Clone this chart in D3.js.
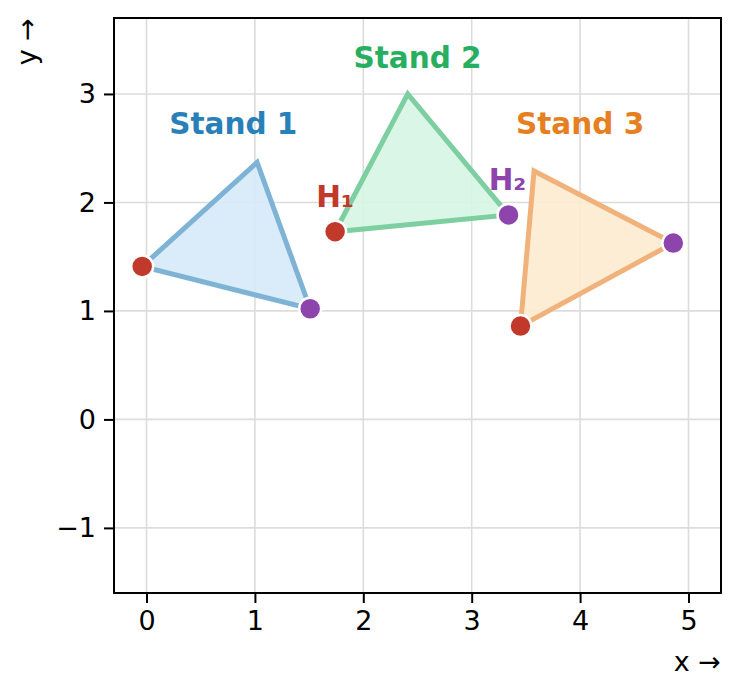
<!DOCTYPE html>
<html>
<head>
<meta charset="utf-8">
<script src="https://cdn.jsdelivr.net/npm/d3@7"></script>
<style>
  body { margin: 0; background: #fff; }
  text { font-family: "DejaVu Sans", sans-serif; }
</style>
</head>
<body>
<div id="chart"></div>
<script>
// stands (triangles), vertex 0 = H1 (red), vertex 2 = H2 (purple)
let stands = ["Stand 1", "Stand 2", "Stand 3"];
let standX = [[-0.04, 1.02, 1.51], [1.74, 2.41, 3.34], [3.45, 3.575, 4.86]];
let standY = [[1.41, 2.37, 1.02], [1.73, 3.0, 1.885], [0.86, 2.29, 1.625]];
let standColors = ["#2980b9", "#27ae60", "#e67e22"];
let edgeColors = ["#7fb3d5", "#7dcea0", "#f0b27a"];
let fillColors = ["#d6eaf8", "#d5f5e3", "#fdebd0"];
let labelX = [0.8, 2.5, 4.0];
let labelY = [2.72, 3.33, 2.72];

let hubNames = ["H\u2081", "H\u2082"];
let hubColors = ["#c0392b", "#8e44ad"];
let hubLabelX = [1.74, 3.33];
let hubLabelY = [2.05, 2.21];

let xTicks = [0, 1, 2, 3, 4, 5];
let yTicks = [-1, 0, 1, 2, 3];

let margin = {top: 18, right: 19, bottom: 101, left: 114},
  width = 740 - margin.left - margin.right,
  height = 694 - margin.top - margin.bottom;

let svg = d3.select("#chart")
  .append("svg")
  .attr("width", 740)
  .attr("height", 694)
  .append("g")
  .attr("transform", "translate(" + margin.left + "," + margin.top + ")");

let x = d3.scaleLinear().domain([-0.3, 5.3]).range([0, width]);
let y = d3.scaleLinear().domain([-1.6, 3.7]).range([height, 0]);

// grid
svg.append("g").selectAll("line")
  .data(xTicks)
  .enter().append("line")
  .attr("x1", d => x(d)).attr("x2", d => x(d))
  .attr("y1", 0).attr("y2", height)
  .style("stroke", "#dcdcdc").style("stroke-width", 1.6);
svg.append("g").selectAll("line")
  .data(yTicks)
  .enter().append("line")
  .attr("x1", 0).attr("x2", width)
  .attr("y1", d => y(d)).attr("y2", d => y(d))
  .style("stroke", "#dcdcdc").style("stroke-width", 1.6);

// axes
let xAxis = svg.append("g")
  .attr("transform", "translate(0," + height + ")")
  .call(d3.axisBottom(x).tickValues(xTicks).tickSize(10).tickPadding(8).tickFormat(d3.format("d")));
let yAxis = svg.append("g")
  .call(d3.axisLeft(y).tickValues(yTicks).tickSize(10).tickPadding(8)
    .tickFormat(d => d < 0 ? "\u2212" + Math.abs(d) : d));
[xAxis, yAxis].forEach(a => {
  a.select(".domain").remove();
  a.selectAll("line").style("stroke", "#000").style("stroke-width", 2);
  a.selectAll("text").style("font-size", "27px").style("fill", "#000")
    .style("font-family", "DejaVu Sans, sans-serif");
});

// frame
svg.append("rect")
  .attr("width", width).attr("height", height)
  .style("fill", "none").style("stroke", "#000").style("stroke-width", 2);

// triangles
let tri = stands.map((s, i) => standX[i].map((vx, j) => [x(vx), y(standY[i][j])]));
svg.append("g").selectAll("path")
  .data(tri)
  .enter().append("path")
  .attr("d", d => "M" + d.join("L") + "Z")
  .style("fill", (d, i) => fillColors[i])
  .style("fill-opacity", 0.9)
  .style("stroke", (d, i) => edgeColors[i])
  .style("stroke-width", 5)
  .style("stroke-linejoin", "miter");

// hub points
let points = [];
stands.forEach((s, i) => {
  points.push([standX[i][0], standY[i][0], 0]);
  points.push([standX[i][2], standY[i][2], 1]);
});
svg.append("g").selectAll("circle")
  .data(points)
  .enter().append("circle")
  .attr("cx", d => x(d[0]))
  .attr("cy", d => y(d[1]))
  .attr("r", 11)
  .style("fill", d => hubColors[d[2]])
  .style("stroke", "#fff")
  .style("stroke-width", 2.5);

// labels
svg.append("g").selectAll("text")
  .data(stands)
  .enter().append("text")
  .attr("x", (d, i) => x(labelX[i]))
  .attr("y", (d, i) => y(labelY[i]))
  .attr("text-anchor", "middle")
  .attr("dominant-baseline", "central")
  .style("font-size", "29.5px").style("font-weight", "bold")
  .style("fill", (d, i) => standColors[i])
  .text(d => d);

svg.append("g").selectAll("text")
  .data(hubNames)
  .enter().append("text")
  .attr("x", (d, i) => x(hubLabelX[i]))
  .attr("y", (d, i) => y(hubLabelY[i]))
  .attr("text-anchor", "middle")
  .attr("dominant-baseline", "central")
  .style("font-size", "29.5px").style("font-weight", "bold")
  .style("fill", (d, i) => hubColors[i])
  .text(d => d);

// axis labels
svg.append("text")
  .attr("x", width)
  .attr("y", height + 78)
  .attr("text-anchor", "end")
  .style("font-size", "27px")
  .text("x \u2192");
svg.append("text")
  .attr("transform", "translate(-78,0) rotate(-90)")
  .attr("text-anchor", "end")
  .style("font-size", "27px")
  .text("y \u2192");
</script>
</body>
</html>
